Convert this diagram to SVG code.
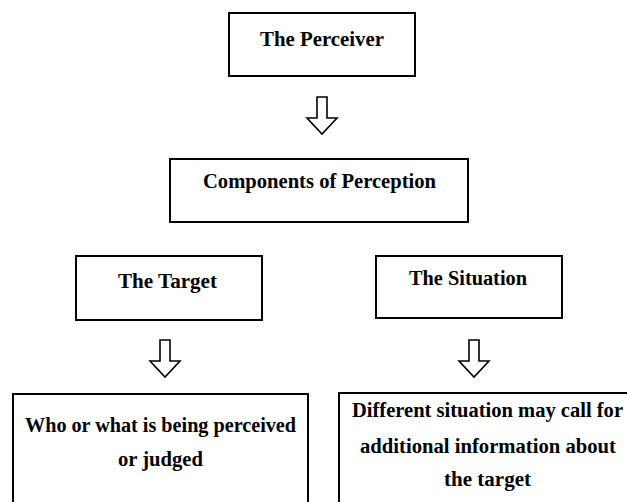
<svg xmlns="http://www.w3.org/2000/svg" width="627" height="502" viewBox="0 0 627 502">
<style>
.box{fill:#fff;stroke:#000;stroke-width:2}
.t{font-family:"Liberation Serif","Times New Roman",serif;font-weight:bold;font-size:20px;fill:#000;text-anchor:middle}
.arr{fill:#fff;stroke:#000;stroke-width:1.6;stroke-linejoin:miter}
</style>
<defs>
<path id="ar" class="arr" d="M-5,0 H5 V21 H15 L0,37 L-15,21 H-5 Z"/>
</defs>
<rect width="627" height="502" fill="#fff"/>
<g id="perceiver">
<rect class="box" x="229" y="13" width="186" height="63"/>
<text class="t" x="322" y="46" textLength="124" lengthAdjust="spacingAndGlyphs">The Perceiver</text>
</g>
<g id="components">
<rect class="box" x="170" y="159" width="298" height="63"/>
<text class="t" x="319.5" y="188" textLength="233" lengthAdjust="spacingAndGlyphs">Components of Perception</text>
</g>
<g id="target">
<rect class="box" x="76" y="256" width="186" height="64"/>
<text class="t" x="167.5" y="288" textLength="99" lengthAdjust="spacingAndGlyphs">The Target</text>
</g>
<g id="situation">
<rect class="box" x="376" y="256" width="186" height="62"/>
<text class="t" x="468" y="285" textLength="118" lengthAdjust="spacingAndGlyphs">The Situation</text>
</g>
<g id="target-desc">
<rect class="box" x="13" y="394" width="295" height="120"/>
<text class="t" x="160.5" y="432" textLength="271" lengthAdjust="spacingAndGlyphs">Who or what is being perceived</text>
<text class="t" x="160.5" y="466" textLength="85" lengthAdjust="spacingAndGlyphs">or judged</text>
</g>
<g id="situation-desc">
<rect class="box" x="339" y="393" width="300" height="120"/>
<text class="t" x="487.5" y="417" textLength="271" lengthAdjust="spacingAndGlyphs">Different situation may call for</text>
<text class="t" x="488" y="453" textLength="256" lengthAdjust="spacingAndGlyphs">additional information about</text>
<text class="t" x="487.5" y="486" textLength="87" lengthAdjust="spacingAndGlyphs">the target</text>
</g>
<g id="connectors">
<use href="#ar" x="322" y="97"/>
<use href="#ar" x="165" y="340"/>
<use href="#ar" x="474" y="340"/>
</g>
</svg>
